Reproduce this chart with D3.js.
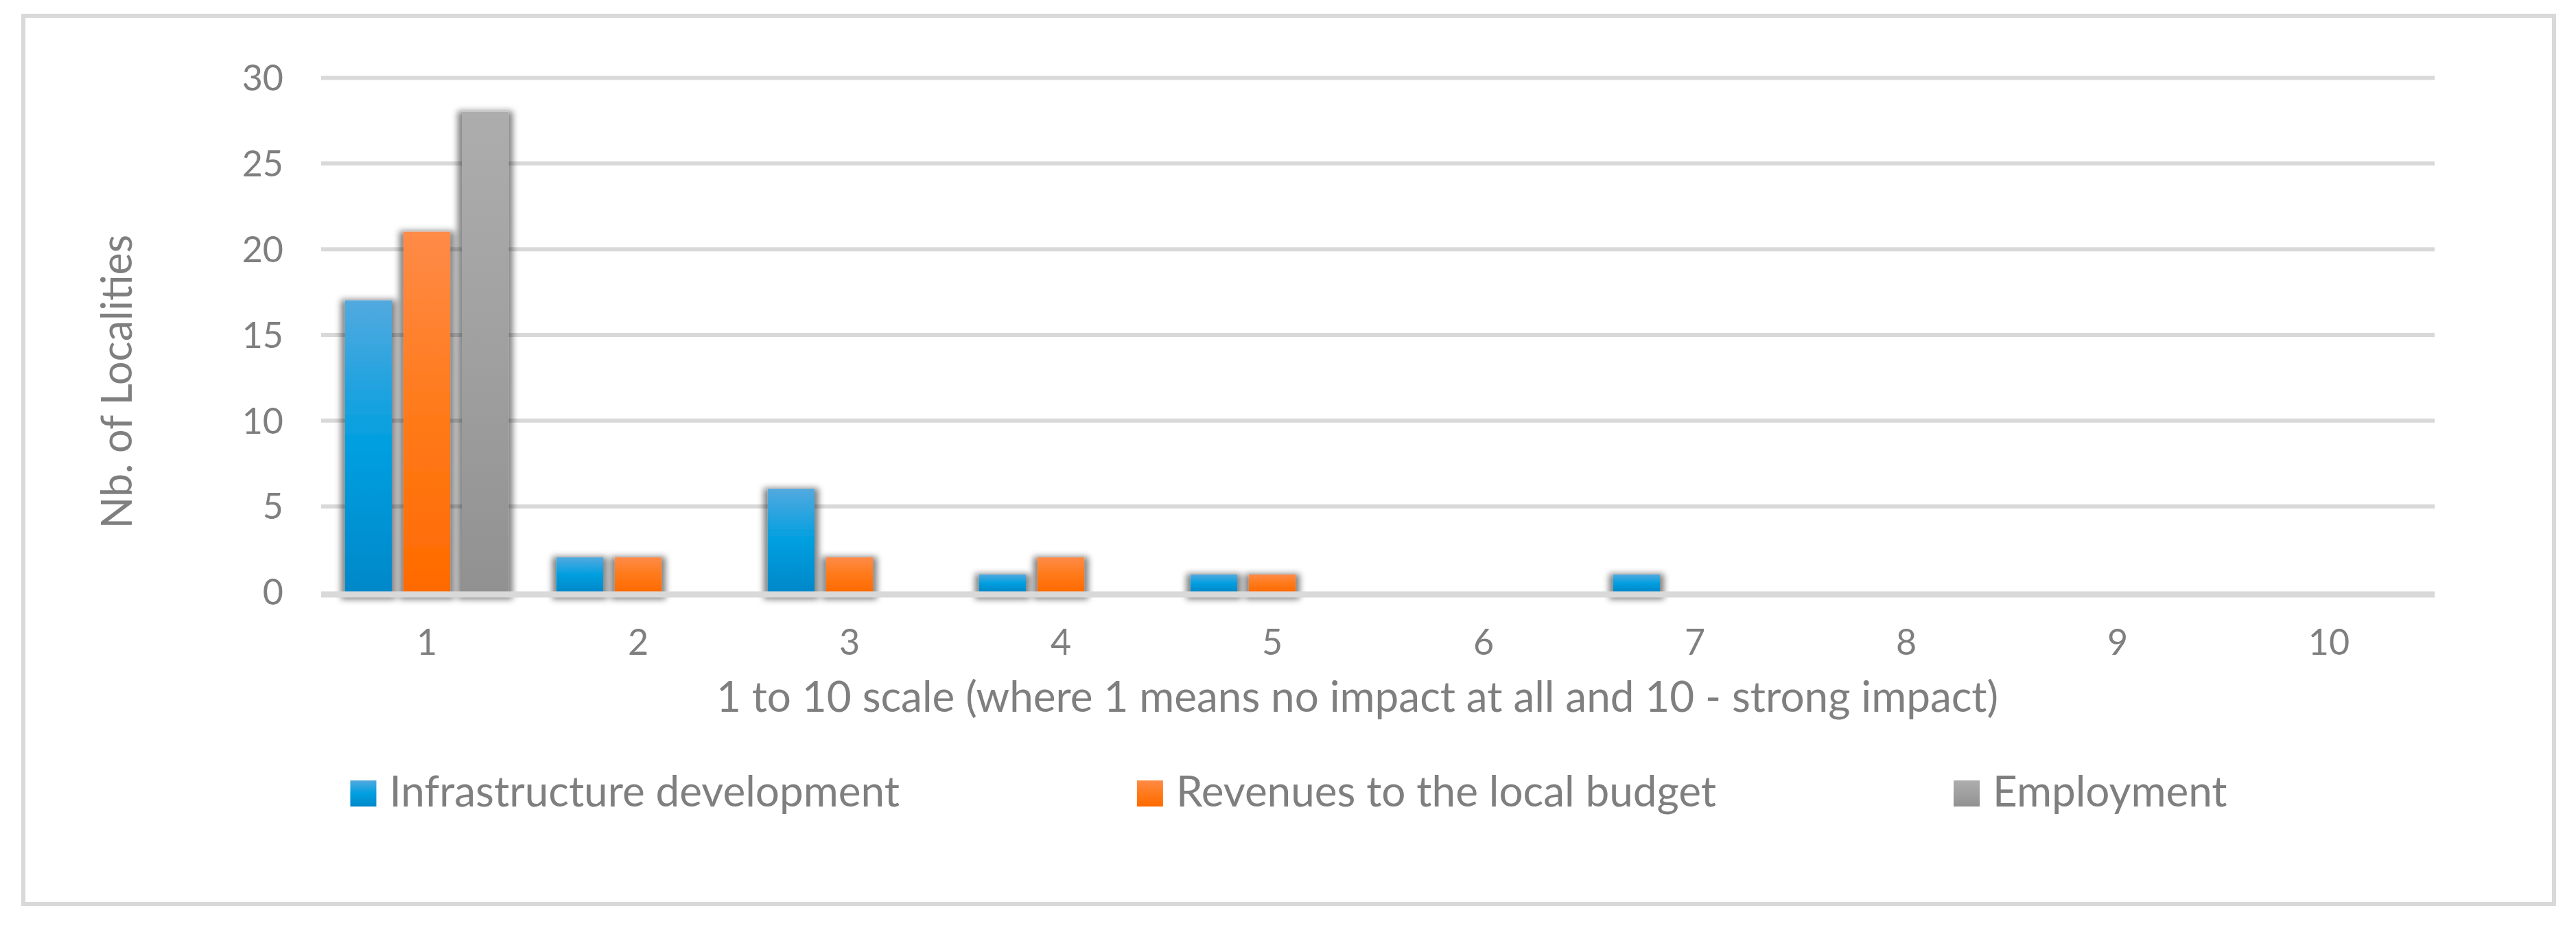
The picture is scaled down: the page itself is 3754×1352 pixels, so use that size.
<!DOCTYPE html>
<html>
<head>
<meta charset="utf-8">
<script src="https://cdn.jsdelivr.net/npm/d3@7"></script>
<style>
  body { margin: 0; background: #fff; }
  text { font-family: Lato, 'Open Sans', sans-serif; fill: #7f7f7f; }
</style>
</head>
<body>
<div class="canvas"></div>
<script>
// data
const categories = ['1', '2', '3', '4', '5', '6', '7', '8', '9', '10'];
const seriesNames = ['Infrastructure development', 'Revenues to the local budget', 'Employment'];
const infrastructure = [17, 2, 6, 1, 1, 0, 1, 0, 0, 0];
const revenues = [21, 2, 2, 2, 1, 0, 0, 0, 0, 0];
const employment = [28, 0, 0, 0, 0, 0, 0, 0, 0, 0];
const yTicks = [0, 5, 10, 15, 20, 25, 30];
const xTitle = '1 to 10 scale (where 1 means no impact at all and 10 - strong impact)';
const yTitle = 'Nb. of Localities';

const seriesValues = [infrastructure, revenues, employment];
const gradients = [
    ['#52a9df', '#009fe0', '#0088c9'],
    ['#ff8b48', '#ff7a1a', '#ff6a00'],
    ['#adadad', '#a0a0a0', '#919191']
];

const width = 3754, height = 1352;
const margin = {top: 113, right: 206, bottom: 490, left: 468};
const graphWidth = width - margin.left - margin.right;
const graphHeight = height - margin.top - margin.bottom;

const svg = d3.select('.canvas')
    .append('svg')
    .attr('width', width)
    .attr('height', height);

const defs = svg.append('defs');

gradients.forEach((stops, i) => {
    const g = defs.append('linearGradient')
        .attr('id', 'grad' + i)
        .attr('x1', 0).attr('y1', 0).attr('x2', 0).attr('y2', 1);
    stops.forEach((c, j) => {
        g.append('stop').attr('offset', j / (stops.length - 1)).attr('stop-color', c);
    });
});

// soft shadow round the bars
const shadow = defs.append('filter')
    .attr('id', 'shadow')
    .attr('x', -0.2).attr('y', -0.2).attr('width', 1.4).attr('height', 1.4);
shadow.append('feMorphology').attr('in', 'SourceAlpha').attr('operator', 'dilate').attr('radius', 6).attr('result', 'd');
shadow.append('feGaussianBlur').attr('in', 'd').attr('stdDeviation', 5).attr('result', 'b');
shadow.append('feOffset').attr('in', 'b').attr('dy', 5).attr('result', 'o');
shadow.append('feComponentTransfer').attr('in', 'o').attr('result', 's')
    .append('feFuncA').attr('type', 'linear').attr('slope', 0.5);
const merge = shadow.append('feMerge');
merge.append('feMergeNode').attr('in', 's');
merge.append('feMergeNode').attr('in', 'SourceGraphic');

// chart border
svg.append('rect')
    .attr('x', 34).attr('y', 23)
    .attr('width', 3688).attr('height', 1294)
    .attr('fill', '#fff')
    .attr('stroke', '#d9d9d9')
    .attr('stroke-width', 6);

const graph = svg.append('g')
    .attr('transform', `translate(${margin.left}, ${margin.top})`);

const x = d3.scaleBand()
    .domain(categories)
    .range([0, graphWidth]);

const xSeries = d3.scaleBand()
    .domain(seriesNames)
    .range([0, x.bandwidth()])
    .paddingInner(0.2)
    .paddingOuter(0.41);

const y = d3.scaleLinear()
    .domain([0, 30])
    .range([graphHeight, 0]);

// gridlines + y labels
const yAxisGroup = graph.append('g')
    .call(d3.axisLeft(y).tickValues(yTicks).tickSize(-graphWidth).tickPadding(55));
yAxisGroup.select('.domain').remove();
yAxisGroup.selectAll('line')
    .attr('stroke', '#d9d9d9')
    .attr('stroke-width', 6)
    .filter(d => d === 0).remove();
yAxisGroup.selectAll('text')
    .attr('font-size', 52)
    .attr('dy', '0.36em')
    .style('fill', '#7f7f7f');

// bars
const rows = categories.map((c, i) => ({cat: c, vals: seriesNames.map((s, k) => ({name: s, k, v: seriesValues[k][i]}))}));

const bars = graph.append('g').attr('filter', 'url(#shadow)');
bars.selectAll('g')
    .data(rows)
    .enter()
    .append('g')
        .attr('transform', d => `translate(${x(d.cat)}, 0)`)
    .selectAll('rect')
    .data(d => d.vals.filter(e => e.v > 0))
    .enter()
    .append('rect')
        .attr('x', d => xSeries(d.name))
        .attr('width', xSeries.bandwidth())
        .attr('y', d => y(d.v))
        .attr('height', d => graphHeight - y(d.v))
        .attr('fill', d => `url(#grad${d.k})`);

// baseline on top of the bars
graph.append('line')
    .attr('x1', 0).attr('x2', graphWidth)
    .attr('y1', graphHeight + 4).attr('y2', graphHeight + 4)
    .attr('stroke', '#d9d9d9')
    .attr('stroke-width', 9);

// x labels
const xAxisGroup = graph.append('g')
    .attr('transform', `translate(0, ${graphHeight})`)
    .call(d3.axisBottom(x).tickSize(0).tickPadding(0));
xAxisGroup.select('.domain').remove();
xAxisGroup.selectAll('text')
    .attr('font-size', 52)
    .attr('y', 92)
    .attr('dy', 0)
    .style('fill', '#7f7f7f');

// axis titles
svg.append('text')
    .attr('x', 1978)
    .attr('y', 1037)
    .attr('text-anchor', 'middle')
    .attr('font-size', 62)
    .text(xTitle);

svg.append('text')
    .attr('transform', 'translate(192, 556) rotate(-90)')
    .attr('text-anchor', 'middle')
    .attr('font-size', 61)
    .text(yTitle);

// legend
const legend = svg.append('g');
const items = legend.selectAll('g')
    .data(seriesNames)
    .enter()
    .append('g');
items.append('rect')
    .attr('y', 1137)
    .attr('width', 38)
    .attr('height', 38)
    .attr('fill', (d, i) => `url(#grad${i})`);
items.append('text')
    .attr('x', 57)
    .attr('y', 1175)
    .attr('font-size', 62)
    .text(d => d);

let offset = 0;
const starts = [];
items.each(function() {
    starts.push(offset);
    const w = d3.select(this).select('text').node().getComputedTextLength();
    offset += 57 + w + 346;
});
const total = offset - 346;
const left = 1878 - total / 2;
items.attr('transform', (d, i) => `translate(${left + starts[i]}, 0)`);
</script>
</body>
</html>
